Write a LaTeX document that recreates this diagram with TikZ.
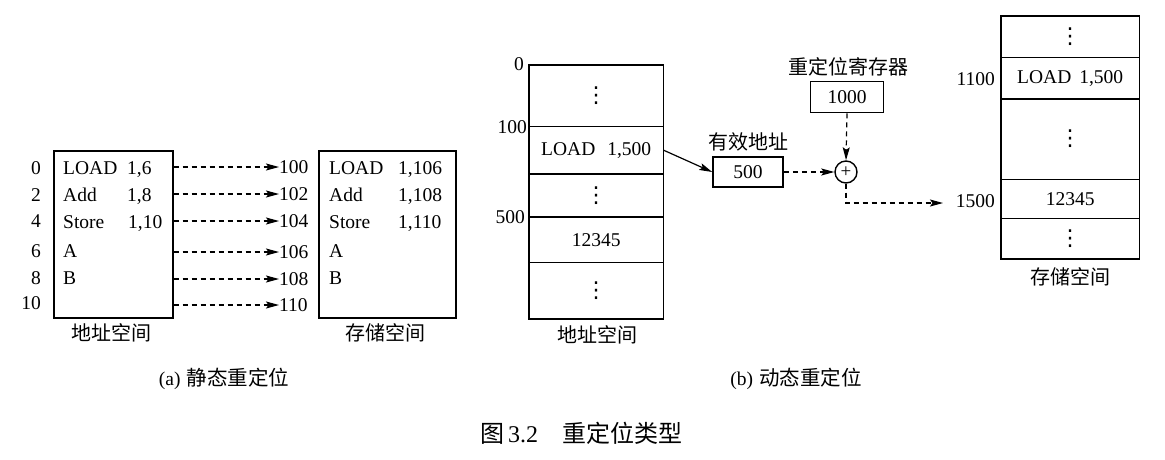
\documentclass[tikz,border=0pt]{standalone}
\usepackage{fontspec}
\setmainfont{Liberation Serif}
\newfontfamily\cjk{Noto Sans CJK SC}
\newfontfamily\sym{DejaVu Sans}
\usetikzlibrary{arrows.meta,calc}
\newcommand{\vdt}{{\sym\fontsize{22}{22}\selectfont ⋮}}
\begin{document}
\begin{tikzpicture}[x=1pt,y=-1pt,
  box/.style={draw,line width=1.6pt,inner sep=0pt},
  cell/.style={inner sep=0pt,minimum width=134pt,font=\fontsize{19.5}{22}\selectfont},
  rcell/.style={inner sep=0pt,minimum width=138pt,font=\fontsize{19.5}{22}\selectfont},
  txt/.style={font=\fontsize{19.5}{22}\selectfont,inner sep=0pt},
  cn/.style={font=\cjk\fontsize{20}{22}\selectfont,inner sep=0pt},
  dsh/.style={dash pattern=on 5pt off 4pt,line width=1.2pt},
  tip/.style={-{Stealth[length=13pt,width=7pt,inset=2.5pt]}},
  sep/.style={line width=1.6pt},
  thin/.style={line width=0.8pt}
]
\useasboundingbox[fill=white] (0,0) rectangle (1165,459);

% ---------------- (a) static relocation ----------------
\node[box,minimum width=119pt,minimum height=167pt,anchor=north west] (as) at (53,150) {};
\node[box,minimum width=137pt,minimum height=167pt,anchor=north west] (ms) at (318,150) {};

\foreach \lab/\yy in {0/174,2/201,4/227,6/257,8/284,10/309}
  \node[txt,anchor=base east] (al\lab) at (41,\yy) {\lab};

\node[txt,anchor=base west] (t1) at (63,174) {LOAD};
\node[txt,anchor=base west] (t1b) at (127,174) {1,6};
\node[txt,anchor=base west] (t2) at (63,201) {Add};
\node[txt,anchor=base west] (t2b) at (127,201) {1,8};
\node[txt,anchor=base west] (t3) at (63,228) {Store};
\node[txt,anchor=base west] (t3b) at (128,228) {1,10};
\node[txt,anchor=base west] (t4) at (63,257) {A};
\node[txt,anchor=base west] (t5) at (63,284) {B};

\node[txt,anchor=base west] (u1) at (329,174) {LOAD};
\node[txt,anchor=base west] (u1b) at (398,174) {1,106};
\node[txt,anchor=base west] (u2) at (329,201) {Add};
\node[txt,anchor=base west] (u2b) at (398,201) {1,108};
\node[txt,anchor=base west] (u3) at (329,228) {Store};
\node[txt,anchor=base west] (u3b) at (398,228) {1,110};
\node[txt,anchor=base west] (u4) at (329,257) {A};
\node[txt,anchor=base west] (u5) at (329,284) {B};

\foreach \lab/\yy in {100/167,102/194,104/221,106/252,108/279,110/305}{
  \coordinate (s\lab) at (as.east |- 0,\yy);
  \node[txt,anchor=west] (m\lab) at (279,\yy) {\lab};
  \draw[dsh,tip] (s\lab) -- (m\lab.west);
}

\node[cn] (asname) at (111,333) {地址空间};
\node[cn] (msname) at (385,333) {存储空间};

\node[inner sep=0pt] (capa) at (224,379) {\fontsize{19.5}{22}\selectfont(a)\hspace{6pt}\cjk\fontsize{20.5}{22}\selectfont 静态重定位};

% ---------------- (b) dynamic relocation ----------------
\node[cell,minimum height=61pt,anchor=north west] (b1) at (529,65) {\vdt};
\node[cell,minimum height=47pt,anchor=north] (b2) at (b1.south) {LOAD\hspace{12pt}1,500};
\node[cell,minimum height=43pt,anchor=north] (b3) at (b2.south) {\vdt};
\node[cell,minimum height=45pt,anchor=north] (b4) at (b3.south) {12345};
\node[cell,minimum height=56pt,anchor=north] (b5) at (b4.south) {\vdt};
\draw[sep] (b1.north west) rectangle (b5.south east);
\foreach \c in {b1,b2,b3,b4}
  \draw[sep] (\c.south west) -- (\c.south east);

\node[txt,anchor=east] (bl0) at (524,64) {0};
\node[txt,anchor=east] (bl100) at (527,127) {100};
\node[txt,anchor=east] (bl500) at (525,217) {500};
\node[cn] (bsname) at (597,335) {地址空间};

\node[box,minimum width=70pt,minimum height=30pt,font=\fontsize{19.5}{22}\selectfont] (ea) at (748,172) {500};
\node[cn] (ealab) at (748,142) {有效地址};
\draw[line width=1.2pt,tip] (b2.east) -- (ea.west);

\node[box,minimum width=73pt,minimum height=31pt,font=\fontsize{19.5}{22}\selectfont] (rr) at (847,97) {1000};
\node[cn] (rrlab) at (848,67) {重定位寄存器};

\node[draw,circle,line width=1.4pt,minimum size=22pt,inner sep=0pt,font=\fontsize{19}{19}\selectfont] (add) at (846,172) {+};
\draw[dsh,tip] (ea.east) -- (add.west);
\draw[dsh,tip] (rr.south) -- (add.north);

% right storage box
\node[rcell,minimum height=41pt,anchor=north west] (c1) at (1001,16) {\vdt};
\node[rcell,minimum height=41pt,anchor=north] (c2) at (c1.south) {LOAD\hspace{8pt}1,500};
\node[rcell,minimum height=80pt,anchor=north] (c3) at (c2.south) {\vdt};
\node[rcell,minimum height=39pt,anchor=north] (c4) at (c3.south) {12345};
\node[rcell,minimum height=40pt,anchor=north] (c5) at (c4.south) {\vdt};
\draw[sep] (c1.north west) rectangle (c5.south east);
\foreach \c in {c1,c2,c4}
  \draw[sep] (\c.south west) -- (\c.south east);
\draw[thin] (c3.south west) -- (c3.south east);

\node[txt,anchor=east] (cl1100) at (995,79) {1100};
\node[txt,anchor=east] (cl1500) at (995,201) {1500};
\node[cn] (csname) at (1070,277) {存储空间};

\coordinate (bend) at (add.south |- 0,203);
\coordinate (ptip) at (943,203);
\draw[dsh,tip] (add.south) -- (bend) -- (ptip);

\node[inner sep=0pt] (capb) at (796,379) {\fontsize{19.5}{22}\selectfont(b)\hspace{6pt}\cjk\fontsize{20.5}{22}\selectfont 动态重定位};

% figure caption
\node[inner sep=0pt] (cap) at (581,433) {\cjk\fontsize{24}{26}\selectfont 图\hspace{4pt}{\rmfamily\fontsize{24}{26}\selectfont 3.2}\hspace{24pt}重定位类型};
\end{tikzpicture}
\end{document}
